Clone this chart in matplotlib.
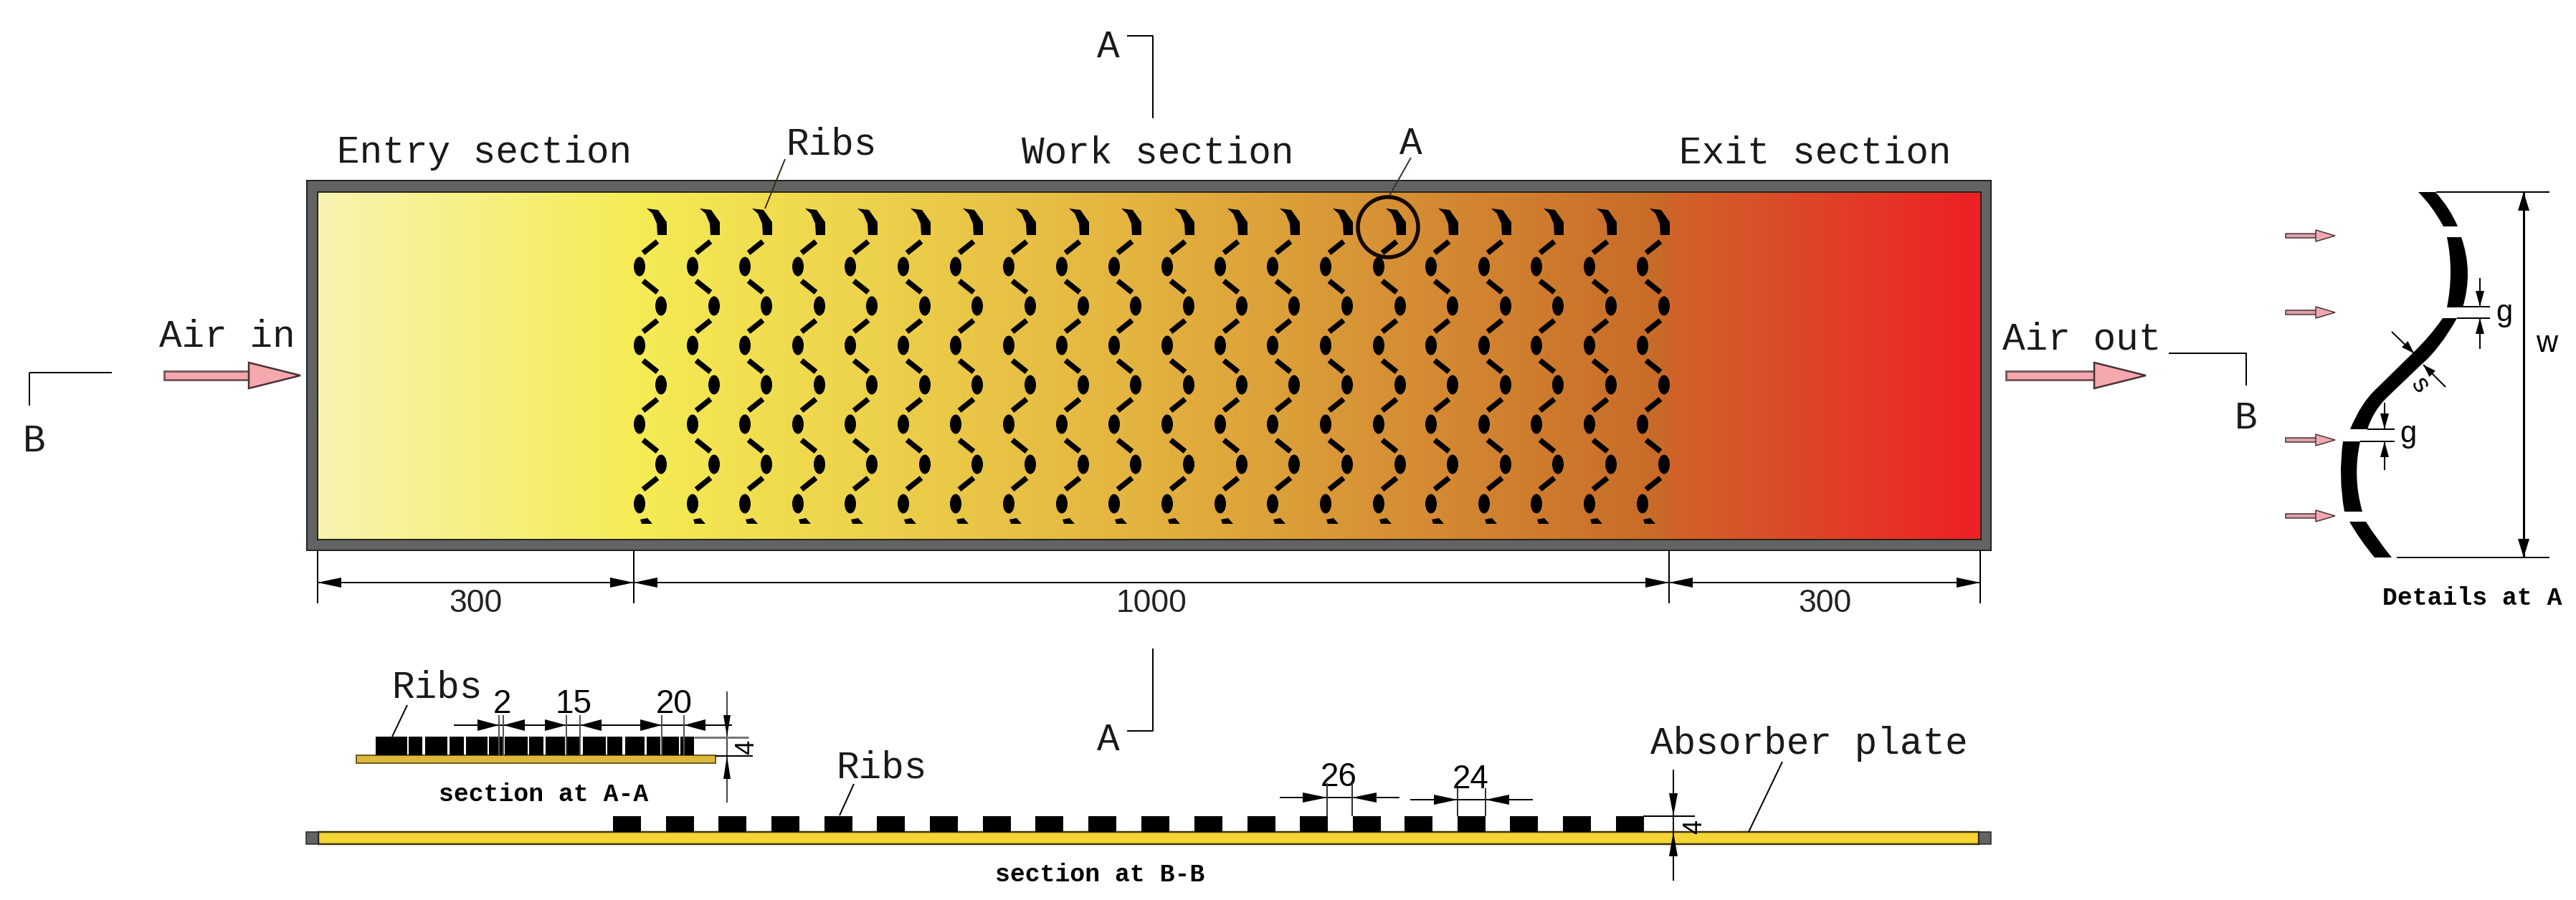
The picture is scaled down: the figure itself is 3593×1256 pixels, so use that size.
"""Solar air duct schematic: plan view, details at A, sections A-A and B-B.

All coordinates are pixels of the 3593x1256 picture, y pointing down.
"""

import numpy as np
import matplotlib
matplotlib.use("Agg")
import matplotlib.pyplot as plt
from matplotlib.colors import LinearSegmentedColormap
from matplotlib.patches import Ellipse, PathPatch, Polygon, Rectangle
from matplotlib.path import Path

W, H = 3593, 1256
PX = 0.72  # one pixel in points at dpi=100

MONO = "Liberation Mono"
SANS = "Liberation Sans"

# ── duct ─────────────────────────────────────────────────────────────
DUCT_OUTER = (428, 252, 2777, 768)
DUCT_INNER = (443, 268, 2763, 753)
GRAD_POS = [0.0, 0.19, 0.50, 0.81, 0.815, 1.0]
GRAD_COL = ["#F8F4B0", "#F5EC55", "#E3B23F", "#C86A28", "#D0642A", "#EE2025"]

SECTION_X = [443, 884, 2328, 2762]
SECTION_LABELS = ["300", "1000", "300"]

# ── ribs in the plan view ────────────────────────────────────────────
RIB_COLUMNS = [907, 981, 1054, 1128, 1201, 1275, 1348, 1422, 1496, 1569,
               1643, 1717, 1790, 1864, 1938, 2011, 2085, 2158, 2232, 2306]
BLOB_RIGHT_Y = [427, 537, 648]
BLOB_LEFT_Y = [372, 482, 592, 703]
DASH_UP_Y = [345, 455, 565, 675]     # rising to the right
DASH_DOWN_Y = [400, 511, 622]        # falling to the right
CRESCENT_DX = [-5, 11, 23, 23, 10, 9, 3]
CRESCENT_Y = [291, 293, 310, 328, 328, 312, 298]
STUB_DX = [-14, -4, 3, -12]
STUB_Y = [725, 723, 731, 731]

# ── section B-B ──────────────────────────────────────────────────────
BB_PLATE = (444, 1161, 2760, 1178)
BB_RIB_LEFT = [855, 929, 1002, 1076, 1150, 1223, 1297, 1371, 1444, 1518,
               1592, 1666, 1740, 1813, 1887, 1959, 2033, 2106, 2180, 2254]
BB_RIB_WIDTH = 39
BB_RIB_TOP = 1139

# ── section A-A ──────────────────────────────────────────────────────
AA_PLATE = (497, 1054, 998, 1065)
AA_RIB_LEFT = [524, 570, 593, 627, 650, 682, 704, 738, 761, 791, 813, 847, 872, 902, 924, 949]
AA_RIB_RIGHT = [568, 589, 624, 647, 680, 701, 736, 758, 788, 810, 845, 868, 899, 921, 947, 968]

# ── details at A: five pieces of the rib ─────────────────────────────
PIECES = [
    [(3397, 268), (3417, 290), (3428, 316), (3408, 316), (3393, 288), (3373, 268)],
    [(3433, 331), (3450, 379), (3435, 429), (3413, 429), (3423, 379), (3413, 331)],
    [(3268, 616), (3261, 665), (3270, 714), (3295, 714), (3281, 665), (3292, 616)],
    [(3277, 728), (3292, 754), (3312, 778), (3336, 778), (3315, 752), (3300, 728)],
]
S_PIECE_TOP = [(3407, 444), (3390, 469), (3365, 493), (3315, 542), (3293, 562), (3278, 599)]
S_PIECE_LOW = [(3302, 599), (3310, 574), (3328, 556), (3377, 509), (3403, 487), (3427, 444)]
FLOW_Y = [329, 436, 614, 720]

TEXTS = [
    ("Entry section", 470, 227),
    ("Work section", 1425, 227),
    ("Exit section", 2342, 227),
    ("Ribs", 1097, 215),
    ("A", 1952, 215),
    ("A", 1530, 80),
    ("A", 1530, 1047),
    ("B", 32, 630),
    ("B", 3117, 598),
    ("Air in", 222, 484),
    ("Air out", 2793, 488),
    ("Absorber plate", 2302, 1052),
    ("Ribs", 1167, 1085),
    ("Ribs", 547, 973),
]


def px_line(ax, xs, ys, lw=2.0, color="black"):
    ax.plot(xs, ys, color=color, lw=lw * PX, solid_capstyle="butt", zorder=5)


def head(ax, tip, direction, length=26, half=8, color="black", zorder=6):
    """Filled arrow head with its tip at `tip`, pointing along `direction`."""
    tip = np.asarray(tip, float)
    d = np.asarray(direction, float)
    d = d / np.hypot(*d)
    n = np.array([-d[1], d[0]])
    base = tip - d * length
    ax.add_patch(Polygon([tip, base + n * half, base - n * half],
                         closed=True, fc=color, ec="none", zorder=zorder))


def quad_piece(ax, p):
    verts = [p[0], p[1], p[2], p[3], p[4], p[5], p[0]]
    codes = [Path.MOVETO, Path.CURVE3, Path.CURVE3, Path.LINETO,
             Path.CURVE3, Path.CURVE3, Path.CLOSEPOLY]
    ax.add_patch(PathPatch(Path(verts, codes), fc="black", ec="none", zorder=4))


def big_arrow(ax, x0, x1, y):
    # pink shaft with dark outline, pink head
    ax.add_patch(Rectangle((x0, y - 6), x1 - x0 - 70, 12, fc="#F2A8AE", ec="#7C5A5E", lw=3 * PX, zorder=3))
    ax.add_patch(Polygon([(x1, y), (x1 - 72, y - 18), (x1 - 72, y + 18)],
                         closed=True, fc="#F5A8AE", ec="#4A3035", lw=2.5 * PX, zorder=3))


fig = plt.figure(figsize=(W / 100, H / 100), dpi=100, facecolor="white")
ax = fig.add_axes([0, 0, 1, 1])
ax.set_xlim(0, W)
ax.set_ylim(H, 0)
ax.axis("off")

# duct walls and gradient
x0, y0, x1, y1 = DUCT_OUTER
ax.add_patch(Rectangle((x0, y0), x1 - x0, y1 - y0, fc="#626365", ec="#222222", lw=2 * PX, zorder=1))
ix0, iy0, ix1, iy1 = DUCT_INNER
cmap = LinearSegmentedColormap.from_list("duct", list(zip(GRAD_POS, GRAD_COL)))
ax.imshow(np.linspace(0, 1, 1024)[None, :], extent=(ix0, ix1, iy1, iy0), cmap=cmap,
          aspect="auto", zorder=2, vmin=0, vmax=1)
ax.set_xlim(0, W)
ax.set_ylim(H, 0)
ax.add_patch(Rectangle((ix0, iy0), ix1 - ix0, iy1 - iy0, fc="none", ec="#2A2410", lw=2 * PX, zorder=2.5))

# ribs
for cx in RIB_COLUMNS:
    ax.add_patch(Polygon(np.column_stack([cx + np.array(CRESCENT_DX), CRESCENT_Y]),
                         closed=True, fc="black", ec="none", zorder=4))
    ax.add_patch(Polygon(np.column_stack([cx + np.array(STUB_DX), STUB_Y]),
                         closed=True, fc="black", ec="none", zorder=4))
    for y in BLOB_RIGHT_Y:
        ax.add_patch(Ellipse((cx + 15, y), 16, 27, fc="black", ec="none", zorder=4))
    for y in BLOB_LEFT_Y:
        ax.add_patch(Ellipse((cx - 15, y), 16, 27, fc="black", ec="none", zorder=4))
    for y in DASH_UP_Y:
        px_line(ax, [cx - 10, cx + 10], [y + 8, y - 8], lw=7.5)
    for y in DASH_DOWN_Y:
        px_line(ax, [cx - 10, cx + 10], [y - 8, y + 8], lw=7.5)

# circle A, leaders
ax.add_patch(Ellipse((1936, 317), 84, 84, fc="none", ec="#140804", lw=5.5 * PX, zorder=5))
px_line(ax, [1968, 1938], [220, 273], color="#3A3030")
px_line(ax, [1095, 1067], [222, 291], color="#3A3010")

# cut marks
px_line(ax, [1572, 1608, 1608], [50, 50, 165])
px_line(ax, [1572, 1608, 1608], [1020, 1020, 905])
px_line(ax, [41, 156], [520, 520])
px_line(ax, [41, 41], [520, 566])
px_line(ax, [3025, 3133, 3133], [493, 493, 538])

big_arrow(ax, 229, 419, 524)
big_arrow(ax, 2798, 2993, 524)

# section dimensions
for x in SECTION_X:
    px_line(ax, [x, x], [768, 842])
px_line(ax, [SECTION_X[0], SECTION_X[-1]], [813, 813])
for a, b, lab in zip(SECTION_X[:-1], SECTION_X[1:], SECTION_LABELS):
    head(ax, (a, 813), (-1, 0), length=33, half=7)
    head(ax, (b, 813), (1, 0), length=33, half=7)
    ax.text((a + b) / 2, 842, lab, family=SANS, fontsize=32, ha="center", va="center", color="#222222")

# details at A
for p in PIECES:
    quad_piece(ax, p)
verts = S_PIECE_TOP + S_PIECE_LOW + [S_PIECE_TOP[0]]
codes = [Path.MOVETO, Path.CURVE3, Path.CURVE3, Path.LINETO, Path.CURVE3, Path.CURVE3,
         Path.LINETO, Path.CURVE3, Path.CURVE3, Path.LINETO, Path.CURVE3, Path.CURVE3,
         Path.CLOSEPOLY]
ax.add_patch(PathPatch(Path(verts, codes), fc="black", ec="none", zorder=4))

px_line(ax, [3398, 3556], [268, 268])
px_line(ax, [3343, 3556], [778, 778])
px_line(ax, [3520, 3520], [268, 778], lw=3)
head(ax, (3520, 268), (0, -1), length=26, half=8)
head(ax, (3520, 778), (0, 1), length=26, half=8)
px_line(ax, [3433, 3473], [428, 428])
px_line(ax, [3427, 3473], [444, 444])
px_line(ax, [3459, 3459], [388, 428])
px_line(ax, [3459, 3459], [487, 444])
head(ax, (3459, 428), (0, 1), length=22, half=6)
head(ax, (3459, 444), (0, -1), length=22, half=6)
px_line(ax, [3302, 3340], [599, 599])
px_line(ax, [3292, 3340], [616, 616])
px_line(ax, [3326, 3326], [562, 599])
px_line(ax, [3326, 3326], [656, 616])
head(ax, (3326, 599), (0, 1), length=22, half=6)
head(ax, (3326, 616), (0, -1), length=22, half=6)
px_line(ax, [3336, 3367], [463, 493])
px_line(ax, [3411, 3380], [540, 509])
head(ax, (3367, 493), (1, 1), length=18, half=6)
head(ax, (3380, 509), (-1, -1), length=18, half=6)

for y in FLOW_Y:
    ax.add_patch(Rectangle((3188, y - 3), 44, 6, fc="#D8A0A8", ec="#4A3035", lw=1.5 * PX, zorder=3))
    ax.add_patch(Polygon([(3257, y), (3230, y - 8), (3230, y + 8)], closed=True,
                         fc="#EDA9B2", ec="#4A3035", lw=1.5 * PX, zorder=3))

ax.text(3493, 437, "g", family=SANS, fontsize=30, ha="center", va="center")
ax.text(3359, 606, "g", family=SANS, fontsize=30, ha="center", va="center")
ax.text(3552, 480, "w", family=SANS, fontsize=30, ha="center", va="center")
ax.text(3375, 538, "s", family=SANS, fontsize=26, ha="center", va="center", rotation=-55)
ax.text(3323, 844, "Details at A", family=MONO, fontsize=25, fontweight="bold", ha="left", va="baseline")

# section B-B
px0, py0, px1, py1 = BB_PLATE
ax.add_patch(Rectangle((px0, py0), px1 - px0, py1 - py0, fc="#F5D535", ec="#3F3208", lw=2.5 * PX, zorder=2))
ax.add_patch(Rectangle((427, py0), 17, py1 - py0, fc="#626365", ec="#222222", lw=1.5 * PX, zorder=2))
ax.add_patch(Rectangle((2760, py0), 17, py1 - py0, fc="#626365", ec="#222222", lw=1.5 * PX, zorder=2))
for left in BB_RIB_LEFT:
    ax.add_patch(Rectangle((left, BB_RIB_TOP), BB_RIB_WIDTH, py0 - BB_RIB_TOP, fc="black", ec="none", zorder=3))

px_line(ax, [1785, 1952], [1113, 1113])
px_line(ax, [1967, 2138], [1116, 1116])
for x, top in ((1851, 1093), (1886, 1093), (2033, 1100), (2072, 1100)):
    px_line(ax, [x, x], [top, 1139], color="#333333")
head(ax, (1851, 1113), (1, 0), length=34, half=7)
head(ax, (1886, 1113), (-1, 0), length=34, half=7)
head(ax, (2033, 1116), (1, 0), length=33, half=7)
head(ax, (2072, 1116), (-1, 0), length=33, half=7)
ax.text(1867, 1085, "26", family=SANS, fontsize=33, ha="center", va="center")
ax.text(2051, 1088, "24", family=SANS, fontsize=33, ha="center", va="center")

px_line(ax, [2334, 2334], [1074, 1229])
px_line(ax, [2292, 2364], [1139, 1139])
head(ax, (2334, 1139), (0, 1), length=32, half=6)
head(ax, (2334, 1161), (0, -1), length=34, half=6)
ax.text(2364, 1154, "4", family=SANS, fontsize=26, rotation=90, ha="center", va="center")
px_line(ax, [2439, 2486], [1161, 1063])
px_line(ax, [1171, 1191], [1138, 1094])
ax.text(1534, 1221, "section at B-B", family=MONO, fontsize=25, fontweight="bold", ha="center", va="center")

# section A-A
ax0, ay0, ax1, ay1 = AA_PLATE
ax.add_patch(Rectangle((ax0, ay0), ax1 - ax0, ay1 - ay0, fc="#DDB83A", ec="#6A5820", lw=2 * PX, zorder=2))
for l, r in zip(AA_RIB_LEFT, AA_RIB_RIGHT):
    ax.add_patch(Rectangle((l, 1028), r - l, ay0 - 1028, fc="black", ec="none", zorder=3))
px_line(ax, [633, 1021], [1012, 1012])
for x in (696, 702, 790, 809, 923, 954):
    px_line(ax, [x, x], [998, 1054], color="#555555")
head(ax, (696, 1012), (1, 0), length=30, half=8)
head(ax, (702, 1012), (-1, 0), length=30, half=8)
head(ax, (790, 1012), (1, 0), length=30, half=8)
head(ax, (809, 1012), (-1, 0), length=30, half=8)
head(ax, (923, 1012), (1, 0), length=30, half=8)
head(ax, (954, 1012), (-1, 0), length=30, half=8)
ax.text(700, 983, "2", family=SANS, fontsize=33, ha="center", va="center")
ax.text(800, 983, "15", family=SANS, fontsize=33, ha="center", va="center")
ax.text(940, 983, "20", family=SANS, fontsize=33, ha="center", va="center")
px_line(ax, [1014, 1014], [965, 1120], color="#444444")
px_line(ax, [968, 1044], [1029, 1029], lw=3, color="#777777")
px_line(ax, [998, 1050], [1055, 1055])
head(ax, (1014, 1028), (0, 1), length=30, half=5)
head(ax, (1014, 1055), (0, -1), length=32, half=5)
ax.text(1042, 1043, "4", family=SANS, fontsize=26, rotation=90, ha="center", va="center")
px_line(ax, [547, 568], [1028, 984])
ax.text(612, 1118, "section at A-A", family=MONO, fontsize=25, fontweight="bold", ha="left", va="baseline")

for txt, x, y in TEXTS:
    ax.text(x, y, txt, family=MONO, fontsize=38, ha="left", va="baseline", color="#1A1A1A", zorder=6)

fig.savefig("out.png", dpi=100, facecolor="white")
